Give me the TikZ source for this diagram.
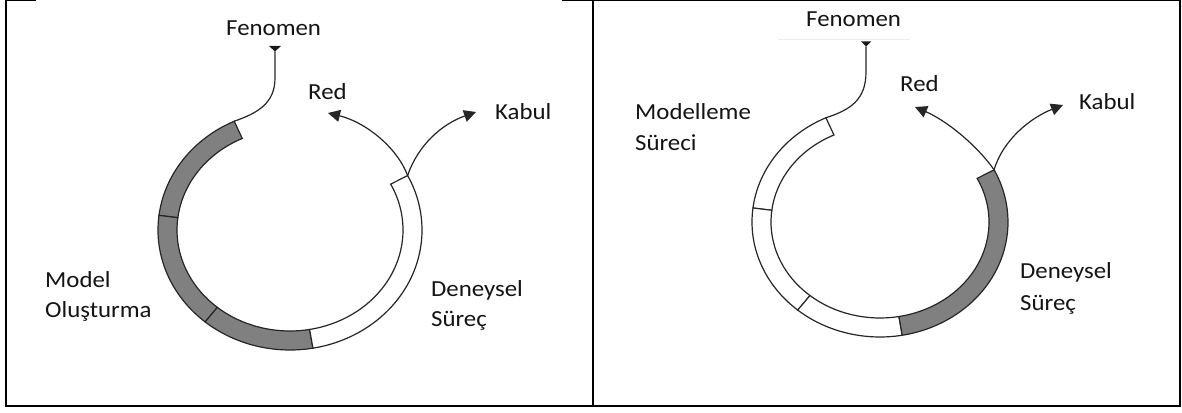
\documentclass[tikz,border=0pt]{standalone}
\usepackage{fontspec}
\newfontfamily\labelfont[FakeStretch=1.08]{Carlito}
\usetikzlibrary{arrows.meta}
\definecolor{bandgray}{RGB}{128,128,128}
\definecolor{faintrule}{RGB}{236,236,236}

\tikzset{
  frame/.style={line width=2pt, black},
  bandline/.style={draw=black!85, line width=1.2pt, line join=miter},
  darkband/.style={bandline, fill=bandgray},
  lightband/.style={bandline, fill=white},
  flow/.style={draw=black!85, line width=1.2pt},
  flowtip/.style={flow, -{Triangle[length=12pt,width=12pt]}},
  feedmark/.style={fill=black!90},
  txt/.style={font=\labelfont\fontsize{23}{28}\selectfont, inner sep=0pt, anchor=base west, text=black!92},
}

% one block of the ring: style, centre, start/end angle, outer radii, inner radii
\newcommand\ringband[8]{%
  \path[#1] ([shift={(#2)}]#3:#5 and #6)
    arc[start angle=#3, end angle=#4, x radius=#5, y radius=#6]
    -- ([shift={(#2)}]#4:#7 and #8)
    arc[start angle=#4, end angle=#3, x radius=#7, y radius=#8] -- cycle;}

\begin{document}
\begin{tikzpicture}[x=1pt,y=1pt]
\useasboundingbox (0,0) rectangle (1182,412);
\fill[white] (0,0) rectangle (1182,412);

% table frame
\draw[frame] (6,412) -- (6,6.3) -- (1179.5,6.3) -- (1179.5,412);
\draw[frame] (592.7,412) -- (592.7,6.3);
\draw[frame] (5,412) -- (36,412);
\draw[frame] (562,412) -- (1180.5,412);

% ---------------- left cycle ----------------
\coordinate (Lc) at (290,182);
\ringband{darkband}{Lc}{115}{173}{132}{120}{113}{101}
\ringband{darkband}{Lc}{173}{230}{132}{120}{113}{101}
\ringband{darkband}{Lc}{230}{280}{132}{120}{113}{101}
\ringband{lightband}{Lc}{280}{387}{132}{120}{113}{101}
\coordinate (Lentry) at ([shift={(Lc)}]115:132 and 120);
\coordinate (Lexit) at ([shift={(Lc)}]27:132 and 120);

\node[txt] (lfen) at (226,376) {Fenomen};
\coordinate (Lfeed) at (275,360.5);
\fill[feedmark] (269,366) -- (281,366) -- (Lfeed) -- cycle;
\draw[flow] (Lfeed) -- (275,334) .. controls (275,309) and (258,299) .. (Lentry);

\coordinate (Lred) at (328,299);
\coordinate (Lkabul) at (476,300);
\draw[flowtip] (Lexit) .. controls (397,265) and (365,290) .. (Lred);
\draw[flowtip] (Lexit) .. controls (418,267) and (442,288) .. (Lkabul);

\node[txt] (lred) at (308,312) {Red};
\node[txt] (lkab) at (495,292) {Kabul};
\node[txt] (lmod1) at (45,124) {Model};
\node[txt] (lmod2) at (45,94) {Oluşturma};
\node[txt] (ldeney1) at (431,115) {Deneysel};
\node[txt] (ldeney2) at (431,85) {Süreç};

% ---------------- right cycle ----------------
\coordinate (Rc) at (880,190);
\ringband{lightband}{Rc}{115}{173}{128}{115}{109}{96}
\ringband{lightband}{Rc}{173}{230}{128}{115}{109}{96}
\ringband{lightband}{Rc}{230}{280}{128}{115}{109}{96}
\ringband{darkband}{Rc}{280}{387}{128}{115}{109}{96}
\coordinate (Rentry) at ([shift={(Rc)}]115:128 and 115);
\coordinate (Rexit) at ([shift={(Rc)}]27:128 and 115);

\draw[faintrule, line width=0.8pt] (778,373) -- (910,373);
\node[txt] (rfen) at (806,385) {Fenomen};
\coordinate (Rfeed) at (866,365.5);
\fill[feedmark] (861,370.5) -- (871,370.5) -- (Rfeed) -- cycle;
\draw[flow] (Rfeed) -- (866,340) .. controls (866,312) and (850,302) .. (Rentry);

\coordinate (Rred) at (915,305);
\coordinate (Rkabul) at (1063,307);
\draw[flowtip] (Rexit) .. controls (975,269) and (945,292) .. (Rred);
\draw[flowtip] (Rexit) .. controls (1003,272) and (1030,294) .. (Rkabul);

\node[txt] (rred) at (900,320) {Red};
\node[txt] (rkab) at (1079,302) {Kabul};
\node[txt] (rmod1) at (635,292) {Modelleme};
\node[txt] (rmod2) at (635,261) {Süreci};
\node[txt] (rdeney1) at (1020,133) {Deneysel};
\node[txt] (rdeney2) at (1020,101) {Süreç};
\end{tikzpicture}
\end{document}
